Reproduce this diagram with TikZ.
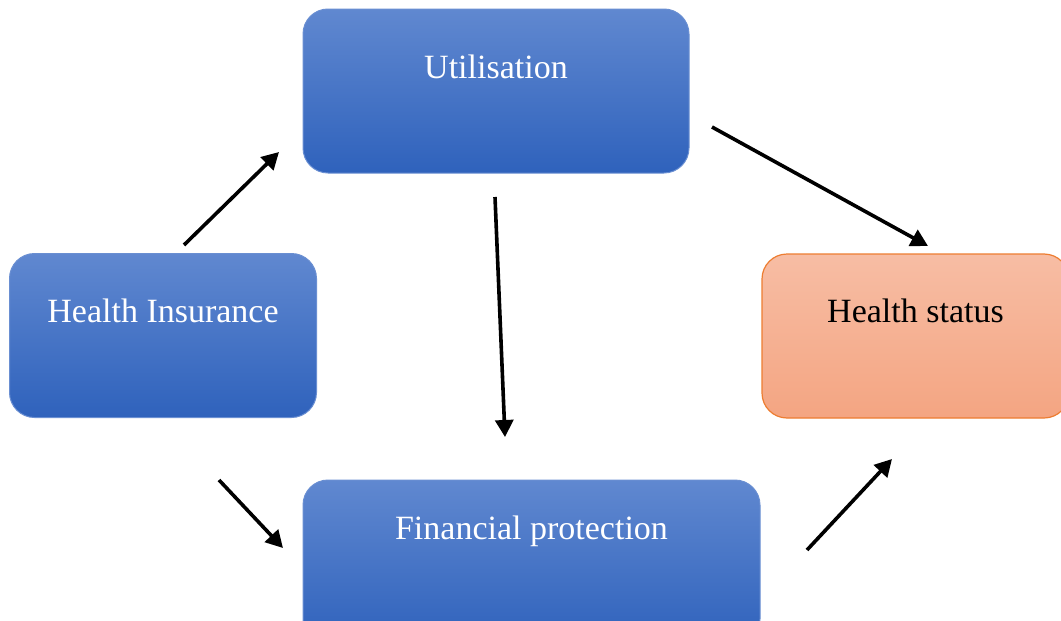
\documentclass[tikz,border=0pt]{standalone}
\usepackage{fontspec}
\setmainfont{Liberation Serif}
\usetikzlibrary{arrows.meta,calc}

\definecolor{blueTop}{HTML}{6088D0}
\definecolor{blueBot}{HTML}{2F62BC}
\definecolor{blueEdge}{HTML}{6A8FD2}
\definecolor{orangeTop}{HTML}{F7BDA4}
\definecolor{orangeBot}{HTML}{F4A582}
\definecolor{orangeEdge}{HTML}{ED7D31}

\tikzset{
  bluebox/.style={rectangle, rounded corners=25pt, draw=blueEdge, line width=1pt,
    top color=blueTop, bottom color=blueBot, minimum height=164pt, inner sep=0pt},
  orangebox/.style={rectangle, rounded corners=25pt, draw=orangeEdge, line width=1.2pt,
    top color=orangeTop, bottom color=orangeBot, minimum height=164pt, inner sep=0pt},
  boxtext/.style={anchor=base, inner sep=0pt, font=\fontsize{34}{40}\selectfont},
  flow/.style={line width=3.6pt, -{Triangle[length=17pt,width=18pt]}}
}

\begin{document}
\begin{tikzpicture}[x=1pt,y=-1pt]
  \useasboundingbox (0,0) rectangle (1061,621);
  \clip (0,0) rectangle (1061,621);

  % boxes
  \node[bluebox, minimum width=386pt] (util) at (496,91) {};
  \node[bluebox, minimum width=307pt] (ins) at (163,335.5) {};
  \node[orangebox, minimum width=307pt] (stat) at (915.5,336) {};
  \node[bluebox, minimum width=457pt] (fin) at (531.5,562) {};

  % labels
  \node[boxtext, text=white] (utilT) at (496,78) {Utilisation};
  \node[boxtext, text=white] (insT) at (163,322) {Health Insurance};
  \node[boxtext, text=black] (statT) at (915.5,322) {Health status};
  \node[boxtext, text=white] (finT) at (531.5,539) {Financial protection};

  % arrow end points
  \coordinate (a1s) at (184,245);  \coordinate (a1e) at (279,152);
  \coordinate (a2s) at (495,197);  \coordinate (a2e) at (505,437);
  \coordinate (a3s) at (712,127);  \coordinate (a3e) at (928,246);
  \coordinate (a4s) at (219,480);  \coordinate (a4e) at (283,548);
  \coordinate (a5s) at (807,550);  \coordinate (a5e) at (892,459);

  \draw[flow] (a1s) -- (a1e);
  \draw[flow] (a2s) -- (a2e);
  \draw[flow] (a3s) -- (a3e);
  \draw[flow] (a4s) -- (a4e);
  \draw[flow] (a5s) -- (a5e);
\end{tikzpicture}
\end{document}
